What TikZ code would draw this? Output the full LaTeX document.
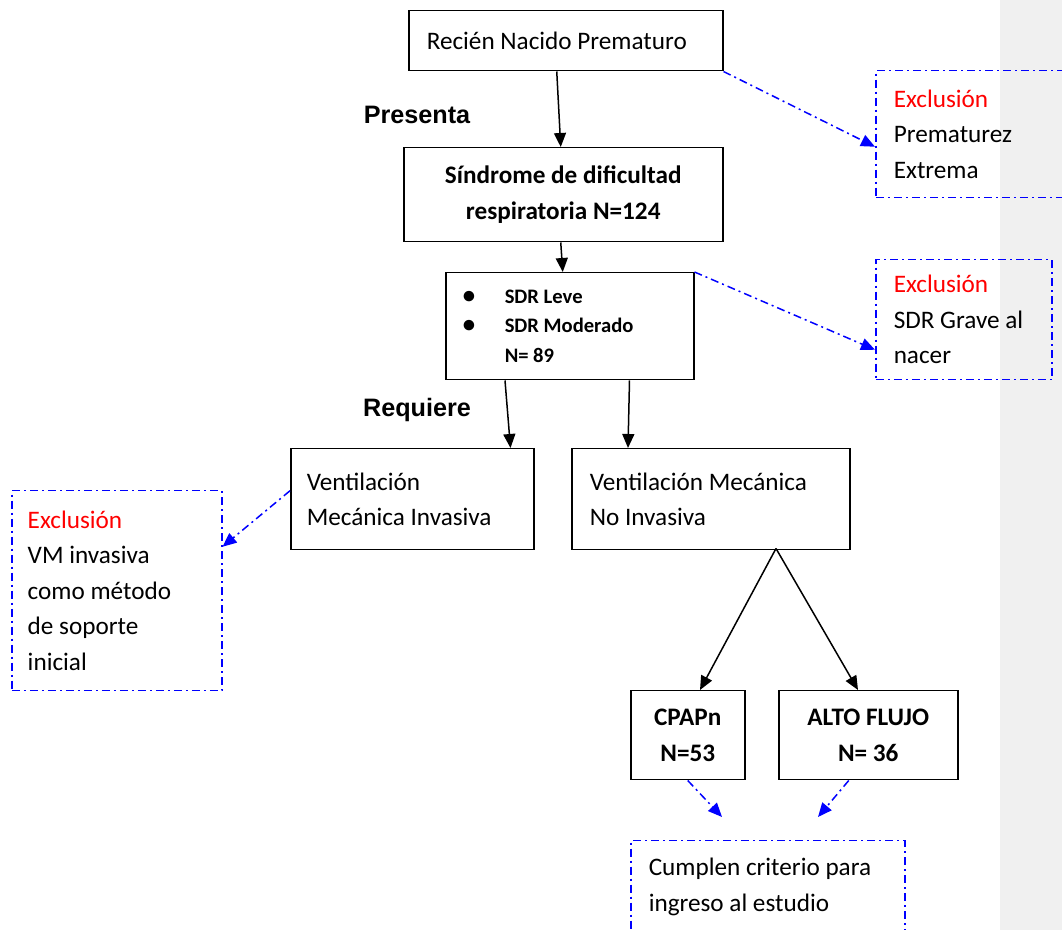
\documentclass[tikz,border=0pt]{standalone}
\usepackage{fontspec}
\setmainfont{Carlito}
\newfontfamily\arialfont{Liberation Sans}
\usepackage{tikz}
\usetikzlibrary{arrows.meta,calc,positioning}
\definecolor{margingray}{HTML}{F0F0F0}
\newcommand{\txt}{\fontsize{12.6}{17.75}\selectfont}
\newcommand{\smalltxt}{\fontsize{10.3}{14.75}\selectfont}
\newcommand{\Excl}{\textcolor{red}{Exclusión}}
\newcommand{\bul}{\makebox[20.5pt][l]{\kern-0.5pt\scalebox{1.2}{\textbullet}}}
\tikzset{%
	box/.style      = {draw, rectangle, line width=0.75pt, anchor=north west, inner xsep=9pt, inner ysep=0pt, align=left, font=\txt, execute at begin node={\spaceskip=\fontdimen2\font\xspaceskip=\fontdimen2\font}},
	boldbox/.style  = {box, align=center, font=\txt\bfseries},
	exclbox/.style  = {box, draw=blue, dash pattern=on 4pt off 2pt on 1pt off 2pt},
	arrow/.style    = {line width=0.75pt,-{Triangle[length=7pt,width=6pt]}},
	exarrow/.style  = {arrow, blue, dash pattern=on 4pt off 2pt on 1pt off 2pt},
	actlabel/.style = {font=\fontsize{12.6}{15}\selectfont\arialfont\bfseries},
}

\begin{document}
\begin{tikzpicture}[x=0.5pt,y=-0.5pt]
		\useasboundingbox (0,0) rectangle (1062,930);
		\clip (0,0) rectangle (1062,930);
		\fill[margingray] (1000,0) rectangle (1062,930);
		
		% main flow
		\node[box, minimum width=157pt, minimum height=30pt, text width=139pt] (rnp) at (408,10) {Recién Nacido Prematuro};
		\node[boldbox, minimum width=159.5pt, minimum height=47pt, text width=141.5pt] (sdr) at (403,147) {Síndrome de dificultad\\respiratoria N=124};
		\node[box, font=\smalltxt\bfseries, minimum width=124pt, minimum height=53.5pt, text width=106pt] (sdrlm) at (445,272) {\bul SDR Leve\\\bul SDR Moderado\\\hspace*{20.5pt}N= 89};
		\node[box, inner xsep=8pt, minimum width=121.5pt, minimum height=50.5pt, text width=105.5pt] (vmi) at (290,448) {Ventilación\\Mecánica Invasiva};
		\node[box, minimum width=139pt, minimum height=50.5pt, text width=121pt] (vmni) at (571,448) {Ventilación Mecánica\\No Invasiva};
		\node[boldbox, minimum width=57pt, minimum height=44.5pt, text width=39pt] (cpap) at (630,690) {CPAPn\\N=53};
		\node[boldbox, minimum width=89.5pt, minimum height=44.5pt, text width=71.5pt] (alto) at (778,690) {ALTO FLUJO\\N= 36};
		
		\node[actlabel] (presenta) at (417,115) {Presenta};
		\node[actlabel] (requiere) at (417,410) {Requiere};
		
		% exclusions
		\node[exclbox, minimum width=96.5pt, minimum height=63.5pt, text width=78.5pt] (exc1) at (875,70) {\Excl\\Prematurez\\Extrema};
		\node[exclbox, minimum width=88pt, minimum height=60pt, text width=70pt] (exc2) at (875,259) {\Excl\\SDR Grave al\\nacer};
		\node[exclbox, inner xsep=8pt, minimum width=105pt, minimum height=100pt, text width=89pt] (exc3) at (11,490) {\Excl\\VM invasiva\\como método\\de soporte\\inicial};
		\node[exclbox, minimum width=137pt, minimum height=46pt, text width=119pt] (fin) at (630,840) {Cumplen criterio para\\ingreso al estudio};
		
		\draw[arrow] ([xshift=-4.5pt]rnp.south) -- ([xshift=-1.25pt]sdr.north);
		\draw[arrow] ([xshift=-1.25pt]sdr.south) -- ([xshift=-3.5pt]sdrlm.north);
		\draw[arrow] ([xshift=30pt]sdrlm.south west) -- ([xshift=-12pt]vmi.north east);
		\draw[arrow] ([xshift=-32.5pt]sdrlm.south east) -- ([xshift=28.5pt]vmni.north west);
		\draw[arrow] ([xshift=102.5pt,yshift=1pt]vmni.south west) -- ([xshift=35pt]cpap.north west);
		\draw[arrow] ([xshift=102.5pt,yshift=1pt]vmni.south west) -- ([xshift=40pt]alto.north west);
		
		\draw[exarrow] (rnp.south east) -- ([yshift=-6.25pt]exc1.west);
		\draw[exarrow] (sdrlm.north east) -- ([yshift=-15pt]exc2.west);
		\draw[exarrow] ([yshift=4.25pt]vmi.west) -- ([yshift=22pt]exc3.east);
		
		\coordinate (cpapend) at (722,817);
		\coordinate (altoend) at (818,817);
		\draw[exarrow] (cpap.south) -- (cpapend);
		\draw[exarrow] ([xshift=-9.75pt]alto.south) -- (altoend);
		
\end{tikzpicture}
\end{document}
